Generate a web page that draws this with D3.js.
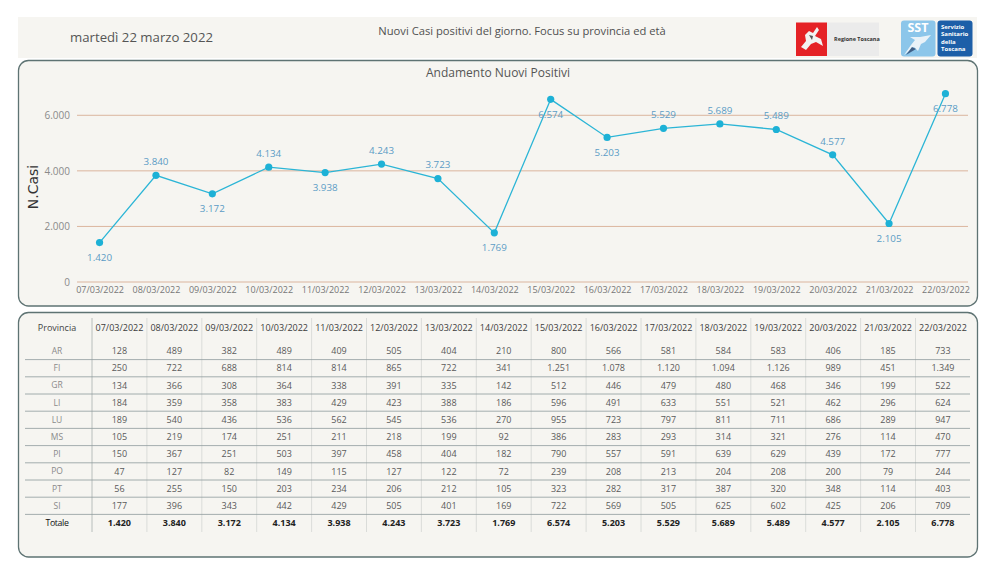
<!DOCTYPE html>
<html>
<head>
<meta charset="utf-8">
<script src="https://cdn.jsdelivr.net/npm/d3@7"></script>
<style>
  body { margin: 0; background: #fff; }
  svg { display: block; font-family: "Open Sans", "Noto Sans", sans-serif; }
</style>
</head>
<body>
<svg id="chart" width="996" height="576"></svg>
<script>

const dates = ["07/03/2022","08/03/2022","09/03/2022","10/03/2022","11/03/2022","12/03/2022","13/03/2022","14/03/2022",
               "15/03/2022","16/03/2022","17/03/2022","18/03/2022","19/03/2022","20/03/2022","21/03/2022","22/03/2022"]
const totals = [1420,3840,3172,4134,3938,4243,3723,1769,6574,5203,5529,5689,5489,4577,2105,6778]
const yticks = [0,2000,4000,6000]

const provinces = ["AR","FI","GR","LI","LU","MS","PI","PO","PT","SI"]
const AR = [128,489,382,489,409,505,404,210,800,566,581,584,583,406,185,733]
const FI = [250,722,688,814,814,865,722,341,1251,1078,1120,1094,1126,989,451,1349]
const GR = [134,366,308,364,338,391,335,142,512,446,479,480,468,346,199,522]
const LI = [184,359,358,383,429,423,388,186,596,491,633,551,521,462,296,624]
const LU = [189,540,436,536,562,545,536,270,955,723,797,811,711,686,289,947]
const MS = [105,219,174,251,211,218,199,92,386,283,293,314,321,276,114,470]
const PI = [150,367,251,503,397,458,404,182,790,557,591,639,629,439,172,777]
const PO = [47,127,82,149,115,127,122,72,239,208,213,204,208,200,79,244]
const PT = [56,255,150,203,234,206,212,105,323,282,317,387,320,348,114,403]
const SI = [177,396,343,442,429,505,401,169,722,569,505,625,602,425,206,709]
const rowsByProvince = [AR,FI,GR,LI,LU,MS,PI,PO,PT,SI]

const it = d3.formatLocale({decimal: ",", thousands: ".", grouping: [3], currency: ["€", ""]})
const fmt = it.format(",d")

const svg = d3.select("#chart")

// --- header band
svg.append("rect").attr("x", 18).attr("y", 17).attr("width", 959).attr("height", 41).attr("fill", "#f6f5f1")
svg.append("text").attr("x", 70).attr("y", 37).attr("dy", "0.35em")
  .attr("font-size", 13.2).attr("fill", "#555").text("martedì 22 marzo 2022")
svg.append("text").attr("x", 522).attr("y", 31).attr("dy", "0.35em").attr("text-anchor", "middle")
  .attr("font-size", 11.2).attr("fill", "#505050").text("Nuovi Casi positivi del giorno. Focus su provincia ed età")

// logos (plain shapes + text)
const logo = svg.append("g")
logo.append("rect").attr("x", 827).attr("y", 22.5).attr("width", 52).attr("height", 33.5).attr("fill", "#ebebeb")
logo.append("rect").attr("x", 796).attr("y", 22.5).attr("width", 31).attr("height", 33.5).attr("fill", "#e52226")
logo.append("path").attr("d", "M801,47 L806,41 L805,35 L809,31 L813,33 L817,27 L819,30 L815,36 L821,39 L823,46 L816,42 L811,44 L806,50 Z")
  .attr("fill", "#f2f2f2")
logo.append("path").attr("d", "M809,35 L813,36 L812,40 Z").attr("fill", "#555")
logo.append("text").attr("x", 834).attr("y", 39).attr("dy", "0.35em").attr("font-size", 5.5)
  .attr("font-weight", "bold").attr("fill", "#333").text("Regione Toscana")
logo.append("rect").attr("x", 901).attr("y", 20.5).attr("width", 34.5).attr("height", 36).attr("rx", 3).attr("fill", "#8cc6ea")
logo.append("text").attr("x", 918).attr("y", 28).attr("dy", "0.35em").attr("text-anchor", "middle").attr("font-size", 12.5)
  .attr("font-weight", "bold").attr("fill", "#fff").text("SST")
logo.append("path").attr("d", "M904,55 L911,45 L915,40 L910,37 L920,37 L931,35 L925,42 L921,44 L918,51 L914,47 Z")
  .attr("fill", "#e9f2f8")
logo.append("path").attr("d", "M906,55 L912,47 L916,49 Z").attr("fill", "#3f5f86")
logo.append("rect").attr("x", 937.5).attr("y", 20.5).attr("width", 35).attr("height", 36).attr("rx", 3).attr("fill", "#1d5fa8")
;["Servizio","Sanitario","della","Toscana"].forEach((s, i) =>
  logo.append("text").attr("x", 941).attr("y", 27 + i * 7.3).attr("dy", "0.35em").attr("font-size", 6)
    .attr("font-weight", "bold").attr("fill", "#fff").text(s))

// --- panels
const panel = (y, h) => svg.append("rect").attr("x", 18.5).attr("y", y).attr("width", 959).attr("height", h)
  .attr("rx", 10).attr("fill", "#f6f5f1").attr("stroke", "#5e7373").attr("stroke-width", 1.3)
panel(60.5, 245.5)
panel(312.5, 244.5)

// --- line chart
const x = d3.scalePoint().domain(dates).range([77, 968]).padding(0.4)
const y = d3.scaleLinear().domain([0, 7000]).range([282, 87.5])

svg.append("text").attr("x", 498).attr("y", 73).attr("dy", "0.35em").attr("text-anchor", "middle")
  .attr("font-size", 12).attr("fill", "#555").text("Andamento Nuovi Positivi")

svg.append("g").selectAll("line").data(yticks).join("line")
  .attr("x1", 77).attr("x2", 968).attr("y1", d => y(d)).attr("y2", d => y(d))
  .attr("stroke", "#dbb59e").attr("stroke-width", 1)

const yAxis = svg.append("g").attr("transform", "translate(70,0)")
  .call(d3.axisLeft(y).tickValues(yticks).tickSize(0).tickPadding(0).tickFormat(fmt))
yAxis.select(".domain").remove()
yAxis.selectAll("text").attr("font-family", "Open Sans").attr("font-size", 10).attr("fill", "#8a8a8a")

const xAxis = svg.append("g").attr("transform", "translate(0,282)")
  .call(d3.axisBottom(x).tickSize(0).tickPadding(5))
xAxis.select(".domain").remove()
xAxis.selectAll("text").attr("font-family", "Open Sans").attr("font-size", 9).attr("fill", "#777")

svg.append("text").attr("transform", "translate(33,187) rotate(-90)").attr("dy", "0.35em")
  .attr("text-anchor", "middle").attr("font-size", 14).attr("fill", "#333")
  .attr("font-family", "DejaVu Sans, sans-serif").text("N.Casi")

const pts = dates.map((d, i) => ({d, v: totals[i], i}))
svg.append("path").datum(pts)
  .attr("d", d3.line().x(p => x(p.d)).y(p => y(p.v)))
  .attr("fill", "none").attr("stroke", "#2bb5d6").attr("stroke-width", 1.3)
svg.append("g").selectAll("circle").data(pts).join("circle")
  .attr("cx", p => x(p.d)).attr("cy", p => y(p.v)).attr("r", 3.6).attr("fill", "#1db1d6")

// label under the point at local minima and near the top, above elsewhere
const isBelow = p => {
  const prev = p.i > 0 ? totals[p.i - 1] : Infinity
  const next = p.i < totals.length - 1 ? totals[p.i + 1] : Infinity
  return p.v > 6500 || p.v <= Math.min(prev, next)
}
svg.append("g").selectAll("text").data(pts).join("text")
  .attr("x", p => x(p.d)).attr("y", p => y(p.v) + (isBelow(p) ? 15 : -13.5)).attr("dy", "0.35em")
  .attr("text-anchor", "middle").attr("font-size", 9.8).attr("fill", "#5b9cc5")
  .text(p => fmt(p.v))

// --- table
const tableRows = provinces.concat(["Totale"])
const col = d3.scaleBand().domain(dates).range([92, 970.4])
const row = d3.scaleBand().domain(tableRows).range([342.4, 531.6])
const tbl = svg.append("g")

tbl.selectAll("line.v").data(dates).join("line").attr("class", "v")
  .attr("x1", d => col(d)).attr("x2", d => col(d)).attr("y1", 318).attr("y2", 532)
  .attr("stroke", (d, i) => i === 0 ? "#a9b0b0" : "#d3d5d3").attr("stroke-width", 0.8)

tbl.selectAll("line.h").data(tableRows.slice(0, -1)).join("line").attr("class", "h")
  .attr("x1", 25).attr("x2", 970).attr("y1", r => row(r) + row.bandwidth()).attr("y2", r => row(r) + row.bandwidth())
  .attr("stroke", "#8e9b9d").attr("stroke-width", 0.8)

tbl.append("text").attr("x", 57).attr("y", 328.3).attr("dy", "0.35em").attr("text-anchor", "middle")
  .attr("font-size", 9).attr("fill", "#444").text("Provincia")
tbl.selectAll("text.hd").data(dates).join("text").attr("class", "hd")
  .attr("x", d => col(d) + col.bandwidth() / 2).attr("y", 328.3).attr("dy", "0.35em").attr("text-anchor", "middle")
  .attr("font-size", 9).attr("fill", "#3c3c3c").text(d => d)

tbl.selectAll("text.rl").data(tableRows).join("text").attr("class", "rl")
  .attr("x", 57).attr("y", r => row(r) + row.bandwidth() / 2).attr("dy", "0.35em").attr("text-anchor", "middle")
  .attr("font-size", r => r === "Totale" ? 8.8 : 8.5)
  .attr("fill", r => r === "Totale" ? "#111" : "#8a8a8a")
  .attr("letter-spacing", r => r === "Totale" ? -0.4 : 0)
  .text(r => r)

const cells = []
rowsByProvince.forEach((vals, ri) => vals.forEach((v, ci) => cells.push({r: provinces[ri], d: dates[ci], v, tot: false})))
totals.forEach((v, ci) => cells.push({r: "Totale", d: dates[ci], v, tot: true}))

tbl.selectAll("text.c").data(cells).join("text").attr("class", "c")
  .attr("x", c => col(c.d) + col.bandwidth() / 2).attr("y", c => row(c.r) + row.bandwidth() / 2).attr("dy", "0.35em")
  .attr("text-anchor", "middle").attr("font-size", 9)
  .attr("font-weight", c => c.tot ? "bold" : "normal")
  .attr("fill", c => c.tot ? "#222" : "#5a5a5a")
  .text(c => fmt(c.v))

</script>
</body>
</html>
